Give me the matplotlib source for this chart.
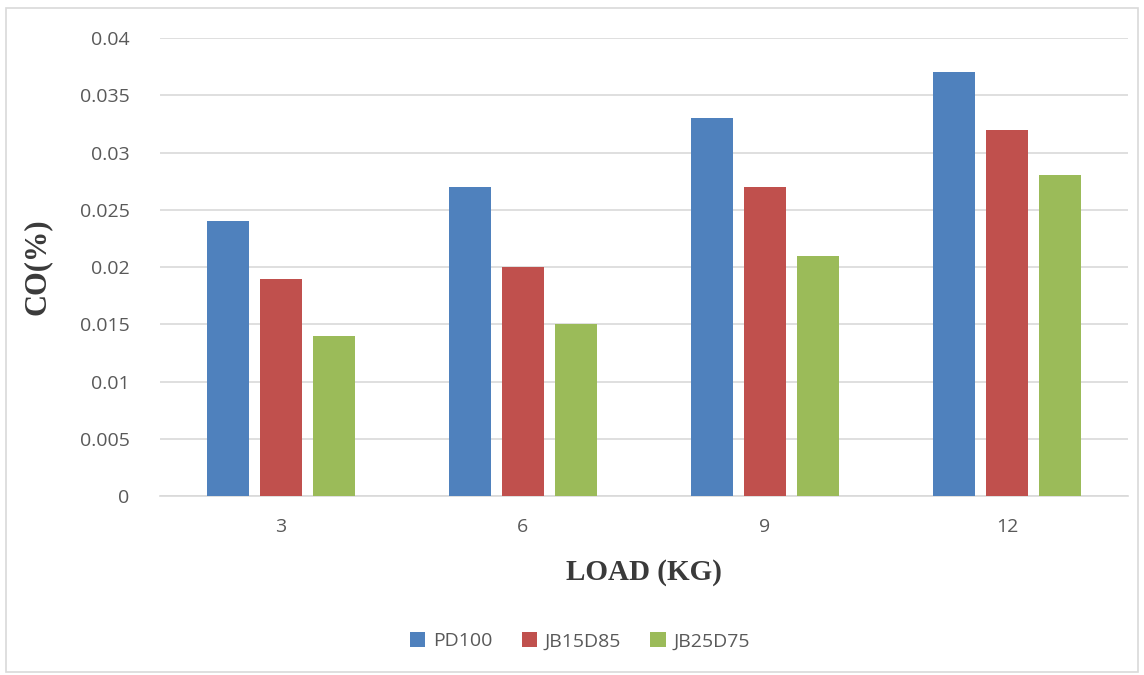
import numpy as np
import matplotlib.pyplot as plt
from matplotlib.patches import Rectangle

loads = ['3', '6', '9', '12']
pd100 = [0.024, 0.027, 0.033, 0.037]
jb15d85 = [0.019, 0.020, 0.027, 0.032]
jb25d75 = [0.014, 0.015, 0.021, 0.028]

series = [('PD100', pd100, '#4F81BD'),
          ('JB15D85', jb15d85, '#C0504D'),
          ('JB25D75', jb25d75, '#9BBB59')]

fig = plt.figure(figsize=(11.44, 6.75), dpi=100)
ax = fig.add_axes([0.1399, 0.265, 0.846, 0.6787])

# outer chart border
fig.patches.append(Rectangle((0.005, 0.004), 0.99, 0.984, transform=fig.transFigure,
                             fill=False, edgecolor='#D9D9D9', linewidth=1.2))

x = np.arange(len(loads))
w = 0.174
step = 0.219
for i, (name, vals, col) in enumerate(series):
    ax.bar(x + (i - 1) * step, vals, width=w, color=col, label=name, zorder=3)

ax.set_xlim(-0.5, len(loads) - 0.5)
ax.set_ylim(0, 0.04)
ax.set_yticks(np.arange(0, 0.0401, 0.005))
ax.set_yticklabels(['0', '0.005', '0.01', '0.015', '0.02', '0.025', '0.03', '0.035', '0.04'])
ax.set_xticks(x)
ax.set_xticklabels(loads)

ax.grid(axis='y', color='#D9D9D9', linewidth=1.2, zorder=0)
for s in ['top', 'right', 'left']:
    ax.spines[s].set_visible(False)
ax.spines['bottom'].set_color('#D9D9D9')
ax.spines['bottom'].set_linewidth(1.2)
ax.tick_params(axis='both', length=0, labelsize=14, labelcolor='#595959')
ax.tick_params(axis='y', pad=22)
ax.tick_params(axis='x', pad=16)
for lbl in ax.get_xticklabels() + ax.get_yticklabels():
    lbl.set_fontfamily('Open Sans')

ax.set_ylabel('CO(%)', fontsize=22, fontweight='bold', family='Liberation Serif',
              color='#3A3A3A', labelpad=20)
ax.set_xlabel('LOAD (KG)', fontsize=21, fontweight='bold', family='Liberation Serif',
              color='#3A3A3A', labelpad=16)

leg = fig.legend(*ax.get_legend_handles_labels(), loc='center',
                 bbox_to_anchor=(0.507, 0.05), ncol=3, frameon=False,
                 prop={'family': 'Open Sans', 'size': 14}, handlelength=0.8,
                 handleheight=0.8, handletextpad=0.4, columnspacing=1.5)
for t in leg.get_texts():
    t.set_color('#595959')

fig.savefig('out.png', dpi=100)
